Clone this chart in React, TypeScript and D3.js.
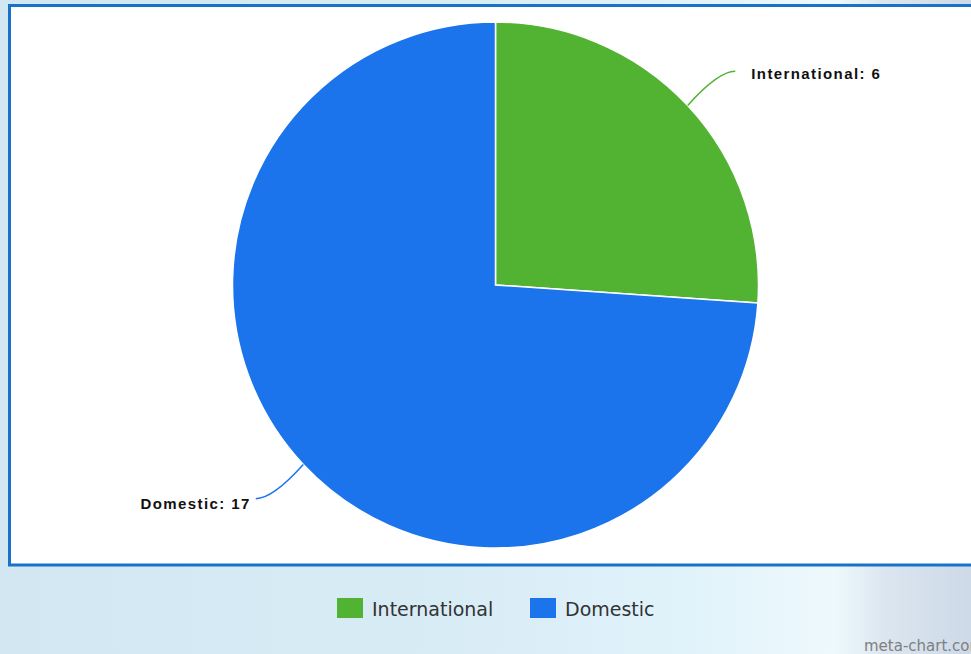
import React from "react";
import * as d3 from "d3";

const categories = ["International", "Domestic"];
const values = [6, 17];
const colors = ["#52b232", "#1b74ec"];

const W = 971;
const H = 654;

export default function App() {
  const cx = 495.5;
  const cy = 285;
  const r = 263;
  const pie = d3.pie<number>().sort(null).value((d) => d)(values);
  const arc = d3.arc<d3.PieArcDatum<number>>().innerRadius(0).outerRadius(r);
  const pt = (a: number, rad: number) => [cx + rad * Math.sin(a), cy - rad * Math.cos(a)];

  return (
    <svg width={W} height={H} style={{ position: "absolute", left: 0, top: 0, display: "block" }}>
      <defs>
        <linearGradient id="bg" x1="0" y1="0" x2="1" y2="0">
          <stop offset="0" stopColor="#d3e7f2" />
          <stop offset="0.45" stopColor="#d8ecf6" />
          <stop offset="0.7" stopColor="#e0f2fa" />
          <stop offset="0.86" stopColor="#eef9fd" />
          <stop offset="0.91" stopColor="#dbe6f0" />
          <stop offset="1" stopColor="#cdd9e7" />
        </linearGradient>
      </defs>
      <rect x={0} y={0} width={W} height={H} fill="url(#bg)" />
      <rect x={9.5} y={5.5} width={975} height={559.5} fill="#ffffff" stroke="#1673c9" strokeWidth={3} />
      <g transform={`translate(${cx},${cy})`}>
        {pie.map((p, i) => (
          <path key={i} d={arc(p) || ""} fill={colors[i]} stroke="#ffffff" strokeWidth={1.5} />
        ))}
      </g>
      {pie.map((p, i) => {
        const mid = (p.startAngle + p.endAngle) / 2;
        const dir = Math.sin(mid) >= 0 ? 1 : -1;
        const [ex, ey] = pt(mid, r);
        const [ox, oy] = pt(mid, r + 50);
        const endX = ox + dir * 11;
        const ctrlX = ox - dir * 6;
        const txtX = dir > 0 ? endX + 16 : endX - 5;
        return (
          <g key={"l" + i}>
            <path
              d={`M${ex},${ey} Q${ctrlX},${oy} ${endX},${oy}`}
              fill="none"
              stroke={colors[i]}
              strokeWidth={1.5}
            />
            <text
              x={txtX}
              y={oy + (dir > 0 ? 7.5 : 10.5)}
              textAnchor={dir > 0 ? "start" : "end"}
              fontFamily="'Liberation Sans', Arial, sans-serif"
              fontWeight="bold"
              fontSize={15}
              letterSpacing={1.4}
              fill="#111111"
            >
              {`${categories[i]}: ${values[i]}`}
            </text>
          </g>
        );
      })}
      {categories.map((c, i) => {
        const x0 = [337, 530][i];
        return (
          <g key={"lg" + i}>
            <rect x={x0} y={598} width={26} height={20} fill={colors[i]} />
            <text x={x0 + 35} y={616} fontFamily="'DejaVu Sans', sans-serif" fontSize={19} fill="#333333">
              {c}
            </text>
          </g>
        );
      })}
      <text x={864} y={651} fontFamily="'DejaVu Sans', sans-serif" fontSize={15} fill="#7f7f7f">
        meta-chart.com
      </text>
    </svg>
  );
}
